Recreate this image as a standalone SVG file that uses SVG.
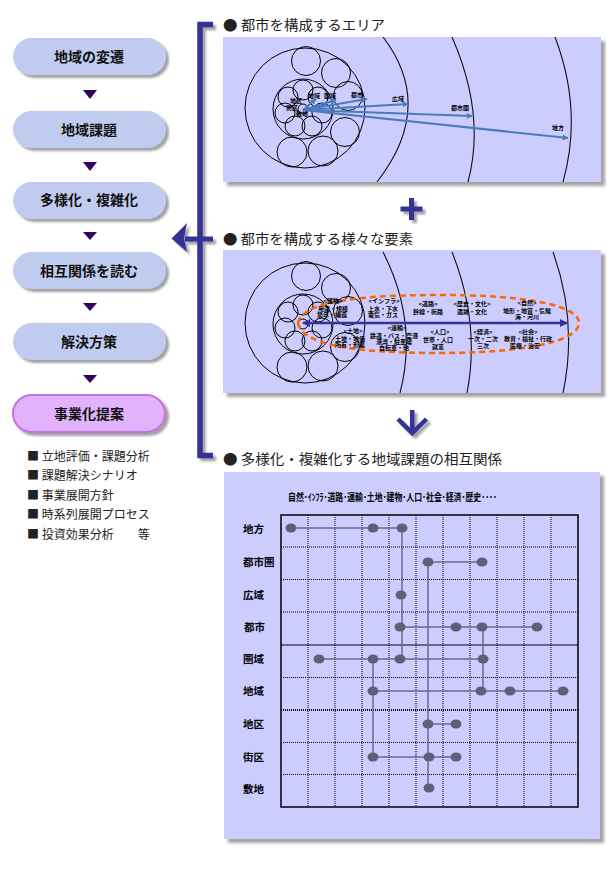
<svg xmlns="http://www.w3.org/2000/svg" width="607" height="869" viewBox="0 0 607 869">
<style>
text{font-family:"Liberation Sans","Noto Sans CJK JP",sans-serif}
.btn{fill:#c0cbf0}
.btnt{font-size:14px;font-weight:bold;fill:#111;text-anchor:middle;dominant-baseline:central}
.tri{fill:#330066}
.list{font-family:"Noto Sans CJK JP","Liberation Sans",sans-serif;font-size:12px;fill:#222;dominant-baseline:central}
.title{font-family:"Noto Sans CJK JP","Liberation Sans",sans-serif;font-size:14px;fill:#222;dominant-baseline:central}
.panel{fill:#ccccff}
.ln{fill:none;stroke:#000;stroke-width:1}
.arc{fill:none;stroke:#111;stroke-width:1.1}
.lbl{font-size:6px;font-weight:bold;fill:#000;text-anchor:middle;dominant-baseline:central}
.blue{stroke:#4a7bbd;stroke-width:2;fill:none}
.navy{fill:#333399}
.dot{fill:#5f5f78}
.mlink{stroke:#6a6a88;stroke-width:1.5;fill:none}
.vgrid{stroke:#000;stroke-width:1;stroke-dasharray:1 1}
.rowl{font-size:10.5px;font-weight:bold;fill:#000;dominant-baseline:central}
</style>
<defs>
<filter id="sh" x="-10%" y="-20%" width="130%" height="160%"><feDropShadow dx="3" dy="3" stdDeviation="1.2" flood-color="#555" flood-opacity="0.55"/></filter>
<filter id="psh" x="-5%" y="-5%" width="115%" height="115%"><feDropShadow dx="4" dy="4" stdDeviation="1.5" flood-color="#666" flood-opacity="0.6"/></filter>
<marker id="ba" viewBox="0 0 10 10" refX="9" refY="5" markerWidth="6" markerHeight="6" markerUnits="userSpaceOnUse" orient="auto"><path d="M0,0 L10,5 L0,10 z" fill="#4a7bbd"/></marker>
<marker id="na" viewBox="0 0 10 10" refX="9" refY="5" markerWidth="8" markerHeight="8" markerUnits="userSpaceOnUse" orient="auto-start-reverse"><path d="M0,0 L10,5 L0,10 z" fill="#333399"/></marker>
<g id="rings">
<circle class="ln" cx="0" cy="0" r="60"/>
<circle class="ln" cx="1" cy="-47" r="14.5"/>
<circle class="ln" cx="31" cy="-35" r="14.5"/>
<circle class="ln" cx="43" cy="-12" r="14.5"/>
<circle class="ln" cx="40" cy="24" r="14.5"/>
<circle class="ln" cx="18" cy="43" r="15"/>
<circle class="ln" cx="-13" cy="44" r="15"/>
<circle class="ln" cx="-2" cy="1" r="30"/>
<circle class="ln" cx="-2" cy="-18" r="10"/>
<circle class="ln" cx="13" cy="-11" r="10"/>
<circle class="ln" cx="17" cy="5" r="10"/>
<circle class="ln" cx="7" cy="18" r="10"/>
<circle class="ln" cx="-10" cy="18" r="10"/>
<circle class="ln" cx="-20" cy="5" r="10"/>
<circle class="ln" cx="-17" cy="-11" r="10"/>
<circle class="ln" cx="-2" cy="1" r="5"/>
</g>
<clipPath id="c1"><rect x="223" y="37" width="378" height="145"/></clipPath>
<clipPath id="c2"><rect x="223" y="250" width="378" height="143"/></clipPath>
</defs>

<g id="steps">
<g id="step1"><rect class="btn" x="13" y="38" width="153" height="37" rx="18.5" filter="url(#sh)"/><text class="btnt" x="89" y="57">地域の変遷</text></g>
<g id="step2"><rect class="btn" x="13" y="111" width="153" height="37" rx="18.5" filter="url(#sh)"/><text class="btnt" x="89" y="130">地域課題</text></g>
<g id="step3"><rect class="btn" x="13" y="182" width="153" height="37" rx="18.5" filter="url(#sh)"/><text class="btnt" x="89" y="200">多様化・複雑化</text></g>
<g id="step4"><rect class="btn" x="13" y="252" width="153" height="37" rx="18.5" filter="url(#sh)"/><text class="btnt" x="89" y="271">相互関係を読む</text></g>
<g id="step5"><rect class="btn" x="13" y="323" width="153" height="37" rx="18.5" filter="url(#sh)"/><text class="btnt" x="89" y="342">解決方策</text></g>
<g id="step6"><rect x="13" y="395" width="152" height="37" rx="18.5" fill="#e2b2fc" stroke="#c470e6" stroke-width="2" filter="url(#sh)"/><text class="btnt" x="89" y="414">事業化提案</text></g>
</g>

<g id="outputs">
<text class="list" x="27" y="455">■ 立地評価・課題分析</text>
<text class="list" x="27" y="474.5">■ 課題解決シナリオ</text>
<text class="list" x="27" y="494">■ 事業展開方針</text>
<text class="list" x="27" y="513.5">■ 時系列展開プロセス</text>
<text class="list" x="27" y="533">■ 投資効果分析　　等</text>
</g>

<g id="connectors">
<polygon class="tri" points="83,90 97,90 90,99"/>
<polygon class="tri" points="83,162 97,162 90,171"/>
<polygon class="tri" points="83,232 97,232 90,240"/>
<polygon class="tri" points="83,303 97,303 90,311"/>
<polygon class="tri" points="83,375 97,375 90,383"/>
<g filter="url(#sh)">
<path d="M213,24.5 H200 V455.5 H213" fill="none" stroke="#333399" stroke-width="5.5"/>
<rect class="navy" x="185" y="236.5" width="28" height="5"/>
<polygon class="navy" points="171.5,238.5 187,223 184,238.5 187,252"/>
</g>
<g filter="url(#sh)">
<rect class="navy" x="409" y="198" width="5" height="22"/>
<rect class="navy" x="400.5" y="206.5" width="22" height="5"/>
</g>
<g filter="url(#sh)">
<rect class="navy" x="410" y="410" width="4.5" height="22"/>
<path d="M398,419 L412.2,433 L426.5,419" fill="none" stroke="#333399" stroke-width="4.5"/>
</g>
</g>

<g id="panel-area">
<text class="title" x="223" y="23.5" textLength="162" lengthAdjust="spacingAndGlyphs">● 都市を構成するエリア</text>
<rect class="panel" x="223" y="37" width="378" height="145" filter="url(#psh)"/>
<g clip-path="url(#c1)">
<path class="arc" d="M383,37 Q436,106.5 377,182"/>
<path class="arc" d="M452,37 Q486,114.5 468,182"/>
<path class="arc" d="M555,37 Q583,110.5 563,182"/>
</g>
<use href="#rings" x="305" y="108"/>
<g id="area-arrows">
<line class="blue" x1="303" y1="110" x2="367" y2="99" marker-end="url(#ba)" stroke-width="1.5"/>
<line class="blue" x1="303" y1="110" x2="408" y2="104" marker-end="url(#ba)"/>
<line class="blue" x1="303" y1="110" x2="472" y2="116" marker-end="url(#ba)" stroke-width="2.5"/>
<line class="blue" x1="303" y1="110" x2="568" y2="138" marker-end="url(#ba)"/>
<line class="blue" x1="303" y1="110" x2="336" y2="100" marker-end="url(#ba)" stroke-width="1.2"/>
<line class="blue" x1="303" y1="110" x2="316" y2="99" marker-end="url(#ba)" stroke-width="1.2"/>
</g>
<text class="lbl" x="296" y="101">地区</text>
<text class="lbl" x="292" y="108">街区</text>
<text class="lbl" x="302" y="114">敷地</text>
<text class="lbl" x="314" y="96">地域</text>
<text class="lbl" x="330" y="96">圏域</text>
<text class="lbl" x="357" y="95">都市</text>
<text class="lbl" x="398" y="99">広域</text>
<text class="lbl" x="460" y="108">都市圏</text>
<text class="lbl" x="558" y="128">地方</text>
</g>

<g id="panel-elements">
<text class="title" x="223" y="237.5" textLength="190" lengthAdjust="spacingAndGlyphs">● 都市を構成する様々な要素</text>
<rect class="panel" x="223" y="250" width="378" height="143" filter="url(#psh)"/>
<g clip-path="url(#c2)">
<path class="arc" d="M383,252 Q418.5,321.5 400,393"/>
<path class="arc" d="M452,252 Q480.5,323.5 467,393"/>
<path class="arc" d="M553,252 Q578,321.5 563,393"/>
</g>
<use href="#rings" x="305" y="323"/>
<path d="M298,323 C302,304 345,295 440,295 C530,295 579,306 579,323 C579,340 530,353 440,353 C345,353 302,343 298,323 Z" fill="none" stroke="#ff6600" stroke-width="2.5" stroke-dasharray="6 4"/>
<line x1="303" y1="323" x2="567" y2="323" stroke="#333399" stroke-width="2.5" marker-start="url(#na)" marker-end="url(#na)"/>
<text class="lbl" x="333" y="301">&lt;建物&gt;</text>
<text class="lbl" x="333" y="309">用途・規模</text>
<text class="lbl" x="332" y="315">築年・構造</text>
<text class="lbl" x="384" y="301">&lt;インフラ&gt;</text>
<text class="lbl" x="383" y="308.5">上水・下水</text>
<text class="lbl" x="383" y="314.5">電気・ガス</text>
<text class="lbl" x="428" y="304">&lt;道路&gt;</text>
<text class="lbl" x="428" y="312">幹線・街路</text>
<text class="lbl" x="472" y="304">&lt;歴史・文化&gt;</text>
<text class="lbl" x="472" y="312">遺跡・文化</text>
<text class="lbl" x="527" y="303">&lt;自然&gt;</text>
<text class="lbl" x="527" y="310.5">地形・地質・気候</text>
<text class="lbl" x="527" y="316.5">海・河川</text>
<text class="lbl" x="353" y="331">&lt;土地&gt;</text>
<text class="lbl" x="350" y="338.5">土地・地価</text>
<text class="lbl" x="350" y="344.5">所有・形態</text>
<text class="lbl" x="397" y="328">&lt;運輸&gt;</text>
<text class="lbl" x="394" y="336">鉄道・バス・空港</text>
<text class="lbl" x="394" y="342">港湾・駐車場</text>
<text class="lbl" x="394" y="348">自転車・他</text>
<text class="lbl" x="440" y="332">&lt;人口&gt;</text>
<text class="lbl" x="438" y="340">世帯・人口</text>
<text class="lbl" x="438" y="347">就業</text>
<text class="lbl" x="483" y="332">&lt;経済&gt;</text>
<text class="lbl" x="483" y="339">一次・二次</text>
<text class="lbl" x="483" y="346">三次</text>
<text class="lbl" x="528" y="332">&lt;社会&gt;</text>
<text class="lbl" x="528" y="339">教育・福祉・行政</text>
<text class="lbl" x="525" y="345.5">医療・治安</text>
</g>

<g id="panel-matrix">
<text class="title" x="223" y="458" textLength="279" lengthAdjust="spacingAndGlyphs">● 多様化・複雑化する地域課題の相互関係</text>
<rect class="panel" x="224" y="472" width="376" height="367" filter="url(#psh)"/>
<text x="288" y="497" font-size="10" font-weight="bold" fill="#000" dominant-baseline="central" textLength="209" lengthAdjust="spacingAndGlyphs">自然･ｲﾝﾌﾗ･道路･運輸･土地･建物･人口･社会･経済･歴史････</text>
<g id="grid">
<line class="vgrid" x1="308" y1="515" x2="308" y2="807"/>
<line class="vgrid" x1="335" y1="515" x2="335" y2="807"/>
<line class="vgrid" x1="362" y1="515" x2="362" y2="807"/>
<line class="vgrid" x1="389" y1="515" x2="389" y2="807"/>
<line class="vgrid" x1="416" y1="515" x2="416" y2="807"/>
<line class="vgrid" x1="443" y1="515" x2="443" y2="807"/>
<line class="vgrid" x1="470" y1="515" x2="470" y2="807"/>
<line class="vgrid" x1="497" y1="515" x2="497" y2="807"/>
<line class="vgrid" x1="524" y1="515" x2="524" y2="807"/>
<line class="vgrid" x1="551" y1="515" x2="551" y2="807"/>
<line class="vgrid" x1="281" y1="547" x2="578" y2="547"/>
<line class="vgrid" x1="281" y1="579.5" x2="578" y2="579.5"/>
<line class="vgrid" x1="281" y1="612" x2="578" y2="612"/>
<line x1="281" y1="645" x2="578" y2="645" stroke="#000" stroke-width="1.2"/>
<line class="vgrid" x1="281" y1="677.5" x2="578" y2="677.5"/>
<line x1="281" y1="710" x2="578" y2="710" stroke="#000" stroke-width="2" stroke-dasharray="1 1"/>
<line class="vgrid" x1="281" y1="742.5" x2="578" y2="742.5"/>
<line class="vgrid" x1="281" y1="774.5" x2="578" y2="774.5"/>
<rect x="281" y="515" width="297" height="292" fill="none" stroke="#000" stroke-width="1.5"/>
</g>
<g id="rows">
<text class="rowl" x="243" y="529">地方</text>
<text class="rowl" x="243" y="562">都市圏</text>
<text class="rowl" x="243" y="595">広域</text>
<text class="rowl" x="244" y="627">都市</text>
<text class="rowl" x="243" y="659">圏域</text>
<text class="rowl" x="243" y="691">地域</text>
<text class="rowl" x="243" y="724">地区</text>
<text class="rowl" x="243" y="757">街区</text>
<text class="rowl" x="243" y="789">敷地</text>
</g>
<g id="matrix-links">
<path class="mlink" d="M291,528 H402 M402,528 V659 M428,562 H482 M428,562 V788 M400,627 H537 M483,627 V691 M319,659 H483 M373,691 H563 M373,659 V757 M428,724 H456 M373,757 H456"/>
</g>
<g id="matrix-dots">
<ellipse class="dot" cx="291" cy="528" rx="5.5" ry="4.5"/>
<ellipse class="dot" cx="373" cy="528" rx="5.5" ry="4.5"/>
<ellipse class="dot" cx="402" cy="528" rx="5.5" ry="4.5"/>
<ellipse class="dot" cx="428" cy="562" rx="5.5" ry="4.5"/>
<ellipse class="dot" cx="482" cy="562" rx="5.5" ry="4.5"/>
<ellipse class="dot" cx="401" cy="595" rx="5.5" ry="4.5"/>
<ellipse class="dot" cx="400" cy="627" rx="5.5" ry="4.5"/>
<ellipse class="dot" cx="456" cy="627" rx="5.5" ry="4.5"/>
<ellipse class="dot" cx="482" cy="627" rx="5.5" ry="4.5"/>
<ellipse class="dot" cx="537" cy="627" rx="5.5" ry="4.5"/>
<ellipse class="dot" cx="319" cy="659" rx="5.5" ry="4.5"/>
<ellipse class="dot" cx="373" cy="659" rx="5.5" ry="4.5"/>
<ellipse class="dot" cx="400" cy="659" rx="5.5" ry="4.5"/>
<ellipse class="dot" cx="483" cy="659" rx="5.5" ry="4.5"/>
<ellipse class="dot" cx="373" cy="691" rx="5.5" ry="4.5"/>
<ellipse class="dot" cx="481" cy="691" rx="5.5" ry="4.5"/>
<ellipse class="dot" cx="510" cy="691" rx="5.5" ry="4.5"/>
<ellipse class="dot" cx="563" cy="691" rx="5.5" ry="4.5"/>
<ellipse class="dot" cx="428" cy="724" rx="5.5" ry="4.5"/>
<ellipse class="dot" cx="456" cy="724" rx="5.5" ry="4.5"/>
<ellipse class="dot" cx="373" cy="757" rx="5.5" ry="4.5"/>
<ellipse class="dot" cx="429" cy="757" rx="5.5" ry="4.5"/>
<ellipse class="dot" cx="456" cy="757" rx="5.5" ry="4.5"/>
<ellipse class="dot" cx="429" cy="788" rx="5.5" ry="4.5"/>
</g>
</g>
</svg>
